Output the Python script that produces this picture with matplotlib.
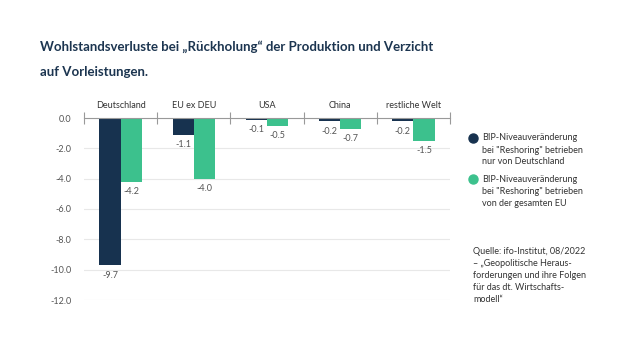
from matplotlib import pyplot as plt
from matplotlib.lines import Line2D
import numpy as np

regionen = ["Deutschland", "EU ex DEU", "USA", "China", "restliche Welt"]
nur_deutschland = [-9.7, -1.1, -0.1, -0.2, -0.2]
gesamte_eu = [-4.2, -4.0, -0.5, -0.7, -1.5]
y_ticks = [0.0, -2.0, -4.0, -6.0, -8.0, -10.0, -12.0]

navy = "#17324f"
gruen = "#3cc18d"
text_farbe = "#1c3550"

plt.rcParams['font.family'] = ['Lato', 'DejaVu Sans']

fig = plt.figure(figsize=(6.4, 3.6), dpi=100)
ax = fig.add_axes([84 / 640, 1 - 300 / 360, 366 / 640, 182 / 360])

x = np.arange(len(regionen))
breite = 0.29
b1 = ax.bar(x - breite / 2, nur_deutschland, breite, color=navy, zorder=3)
b2 = ax.bar(x + breite / 2, gesamte_eu, breite, color=gruen, zorder=3)

for bars, werte in [(b1, nur_deutschland), (b2, gesamte_eu)]:
    for bar, w in zip(bars, werte):
        ax.annotate(f"{w:.1f}", (bar.get_x() + bar.get_width() / 2, w),
                    xytext=(0, -4), textcoords="offset points",
                    ha="center", va="top", fontsize=6.5, color="#555555")

ax.set_xlim(-0.5, len(regionen) - 0.5)
ax.set_ylim(-12, 0)
ax.set_yticks(y_ticks)
ax.set_yticklabels([f"{t:.1f}" for t in y_ticks])
ax.tick_params(axis="y", length=0, pad=9, labelsize=6.5, labelcolor="#555555")
ax.grid(axis="y", color="#e8e8e8", linewidth=0.8, zorder=0)

ax.xaxis.tick_top()
ax.set_xticks(np.arange(len(regionen) + 1) - 0.5)
ax.set_xticklabels([])
ax.set_xticks(x, minor=True)
ax.set_xticklabels(regionen, minor=True)
ax.tick_params(axis="x", which="major", direction="inout", length=8, color="#999999", width=0.8)
ax.tick_params(axis="x", which="minor", length=0, pad=6, labelsize=6.5, labelcolor="#333333")

for s in ["left", "right", "bottom"]:
    ax.spines[s].set_visible(False)
ax.spines["top"].set_color("#999999")
ax.spines["top"].set_linewidth(0.8)
ax.spines["top"].set_zorder(4)

titel = ["Wohlstandsverluste bei „Rückholung“ der Produktion und Verzicht", "auf Vorleistungen."]
for i, zeile in enumerate(titel):
    fig.text(40 / 640, 1 - (47 + 25 * i) / 360, zeile,
             fontsize=9.5, fontweight="bold", color=text_farbe, va="center")

legende = [
    (navy, 138, ["BIP-Niveauveränderung", "bei \"Reshoring\" betrieben", "nur von Deutschland"]),
    (gruen, 179, ["BIP-Niveauveränderung", "bei \"Reshoring\" betrieben", "von der gesamten EU"]),
]
for farbe, ypix, zeilen in legende:
    fig.add_artist(Line2D([473 / 640], [1 - ypix / 360], marker="o", markersize=6.5,
                          color=farbe, linestyle="none", transform=fig.transFigure))
    for i, zeile in enumerate(zeilen):
        fig.text(482 / 640, 1 - (ypix + 12 * i) / 360, zeile, fontsize=6.5,
                 color="#333333", va="center")

quelle = ["Quelle: ifo-Institut, 08/2022", "– „Geopolitische Heraus-",
          "forderungen und ihre Folgen", "für das dt. Wirtschafts-", "modell“"]
for i, zeile in enumerate(quelle):
    fig.text(473 / 640, 1 - (251 + 12 * i) / 360, zeile, fontsize=6.5,
             color="#333333", va="center")

plt.savefig("out.png", dpi=100)
